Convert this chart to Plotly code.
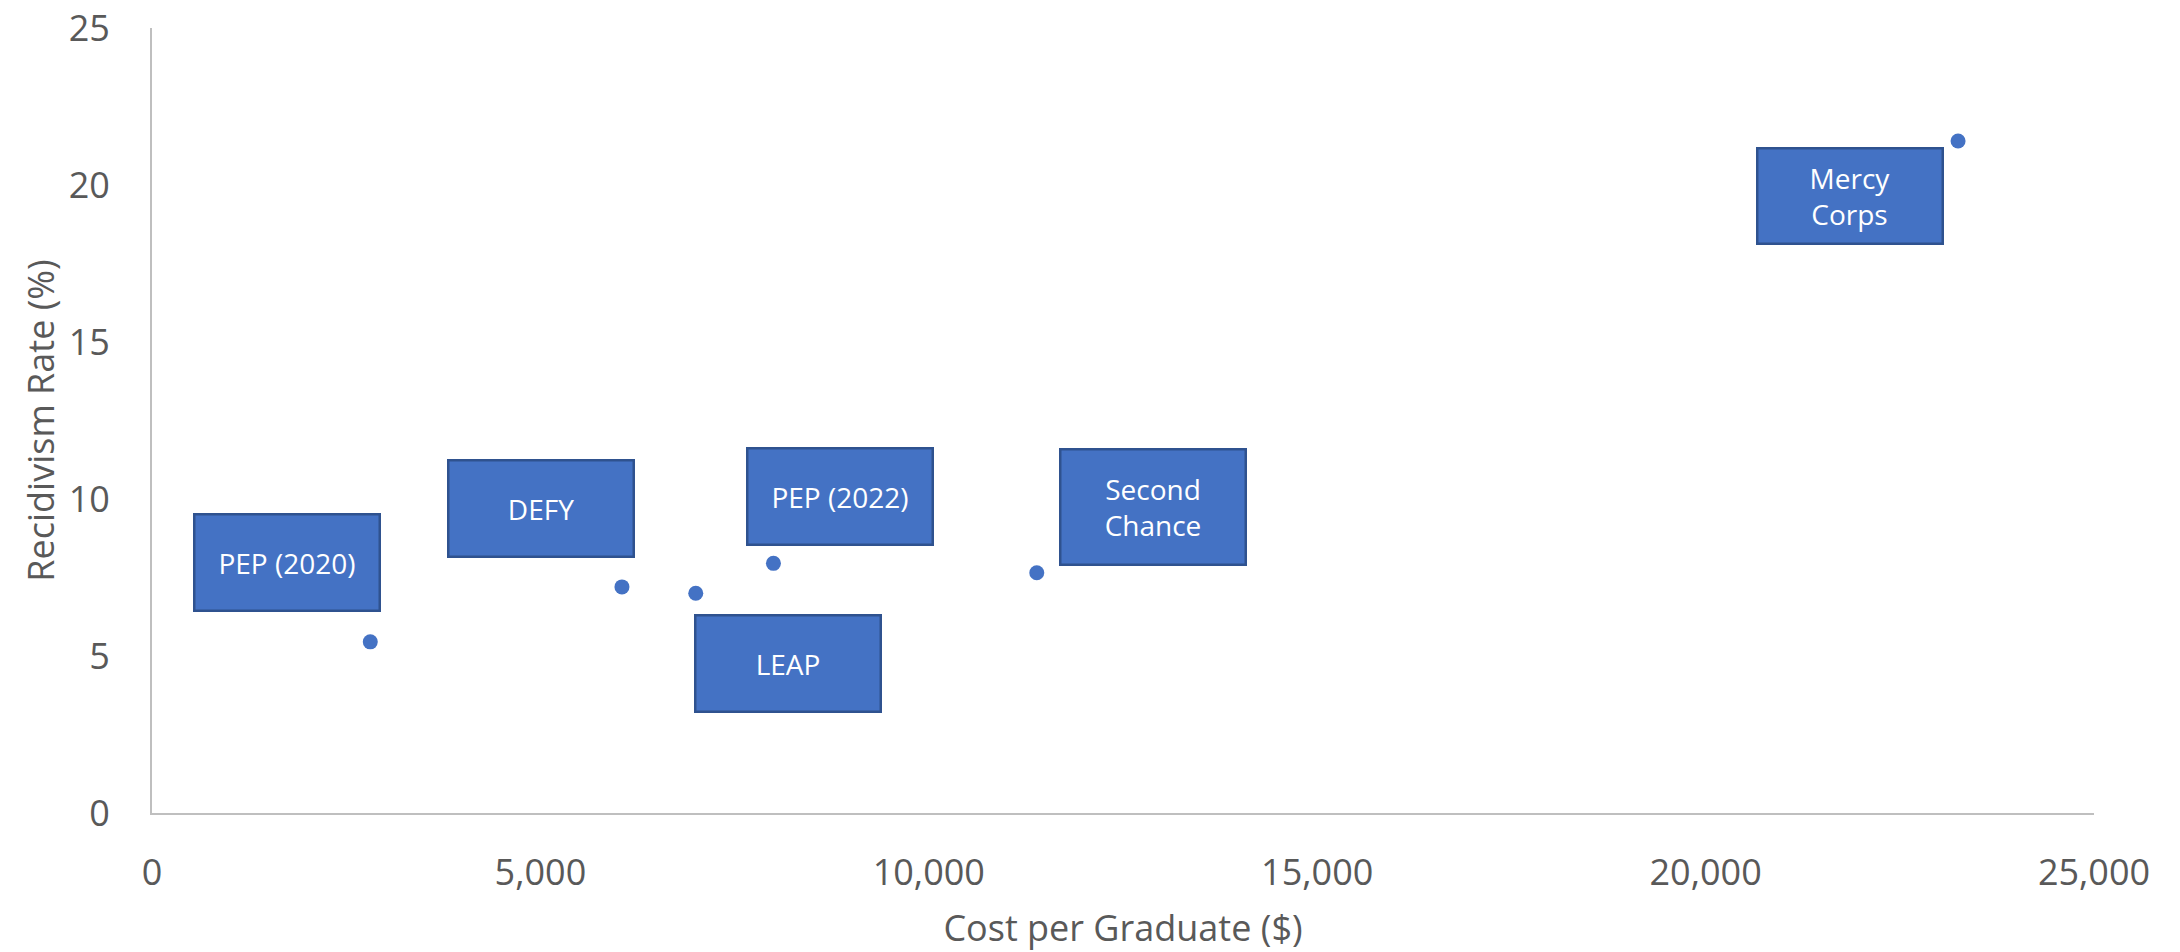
import plotly.graph_objects as go

# Data
programs = ["PEP (2020)", "DEFY", "LEAP", "PEP (2022)", "Second Chance", "Mercy Corps"]
label_text = ["PEP (2020)", "DEFY", "LEAP", "PEP (2022)", "Second<br>Chance", "Mercy<br>Corps"]
cost_per_graduate = [2810, 6050, 7000, 8000, 11390, 23250]
recidivism_rate = [5.45, 7.2, 7.0, 7.95, 7.65, 21.4]

x_ticks = [0, 5000, 10000, 15000, 20000, 25000]
y_ticks = [0, 5, 10, 15, 20, 25]

# Label placement (pixel offsets from each point to its label box centre)
label_dx = [-83, -81, 92, 67, 116, -108]
label_dy = [-79, -78, 70, -67, -66, 55]
label_h = [94, 94, 94, 94, 113, 93]

BLUE = "#4472C4"
BORDER = "#2F528F"
GREY_TXT = "#595959"
FONT = "Open Sans"

fig = go.Figure()
fig.add_trace(go.Scatter(
    x=cost_per_graduate, y=recidivism_rate, mode="markers",
    marker=dict(color=BLUE, size=15, line=dict(width=0)),
    text=programs, hoverinfo="text+x+y", showlegend=False,
))

for i in range(len(programs)):
    fig.add_annotation(
        x=cost_per_graduate[i], y=recidivism_rate[i], xref="x", yref="y",
        text=label_text[i], showarrow=True, arrowcolor="rgba(0,0,0,0)",
        ax=label_dx[i], ay=label_dy[i],
        width=183, height=label_h[i], align="center", valign="middle",
        bgcolor=BLUE, bordercolor=BORDER, borderwidth=2.5, borderpad=0,
        font=dict(family=FONT, size=28, color="white"),
    )

fig.update_layout(
    width=2180, height=952,
    margin=dict(l=152, r=86, t=28, b=139, autoexpand=False),
    paper_bgcolor="white", plot_bgcolor="white",
    font=dict(family=FONT, color=GREY_TXT),
    xaxis=dict(
        range=[0, 25000], tickvals=x_ticks, tickformat=",",
        showgrid=False, zeroline=False, automargin=False,
        showline=True, linecolor="#BFBFBF", linewidth=2,
        ticks="", ticklabelstandoff=27,
        tickfont=dict(family=FONT, size=36, color=GREY_TXT),
        title=dict(text="Cost per Graduate ($)", standoff=21,
                   font=dict(family=FONT, size=36, color=GREY_TXT)),
    ),
    yaxis=dict(
        range=[0, 25], tickvals=y_ticks,
        showgrid=False, zeroline=False, automargin=False,
        showline=True, linecolor="#BFBFBF", linewidth=2,
        ticks="", ticklabelstandoff=33,
        tickfont=dict(family=FONT, size=36, color=GREY_TXT),
        title=dict(text="Recidivism Rate (%)", standoff=3,
                   font=dict(family=FONT, size=36, color=GREY_TXT)),
    ),
)

fig.write_html("out.html")
